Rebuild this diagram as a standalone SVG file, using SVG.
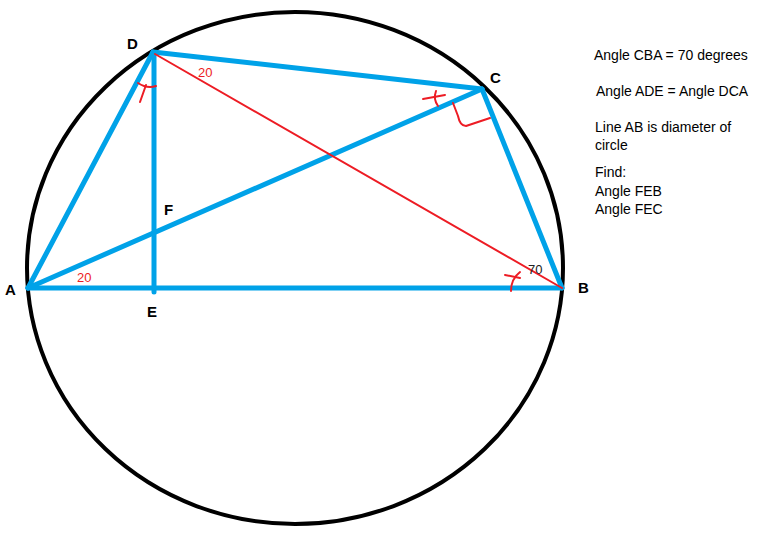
<svg xmlns="http://www.w3.org/2000/svg" width="776" height="544" viewBox="0 0 776 544">
<style>
.blue{stroke:#00a2e8;stroke-width:5;stroke-linecap:round;fill:none}
.red{stroke:#ed1c24;stroke-width:2;fill:none;stroke-linecap:round;stroke-linejoin:round}
.lbl{font-family:"Liberation Sans",Arial,sans-serif;font-weight:bold;font-size:15px;fill:#000}
.num{font-family:"Liberation Sans",Arial,sans-serif;font-size:13px;fill:#ed1c24}
.note{font-family:"Liberation Sans",Arial,sans-serif;font-size:14px;fill:#000}
</style>
<rect width="776" height="544" fill="#fff"/>
<g id="circle">
<ellipse cx="295" cy="268" rx="268" ry="256" fill="none" stroke="#000" stroke-width="4"/>
</g>
<g id="connectors">
<line class="blue" x1="28" y1="288" x2="562" y2="288"/>
<line class="blue" x1="28" y1="288" x2="153" y2="52"/>
<line class="blue" x1="153" y1="52" x2="482" y2="89"/>
<line class="blue" x1="482" y1="89" x2="562" y2="288"/>
<line class="blue" x1="28" y1="288" x2="482" y2="89"/>
<line class="blue" x1="154" y1="53" x2="154" y2="292"/>
<line class="red" x1="155" y1="54" x2="562" y2="288"/>
</g>
<g id="marks">
<path class="red" d="M138,83 Q147,89 156,86"/>
<path class="red" d="M146,85 L140,102"/>
<path class="red" d="M436,91 Q433,99 438,106"/>
<path class="red" d="M423,99 L445,95"/>
<path class="red" d="M453,103 L458,116 Q460,126 466,126 L490,118"/>
<path class="red" d="M520,272 Q511,279 511,291"/>
<path class="red" d="M505,275 L520,278"/>
</g>
<g id="node-D"><text class="lbl" x="127" y="49">D</text></g>
<g id="node-C"><text class="lbl" x="490" y="83">C</text></g>
<g id="node-B"><text class="lbl" x="578" y="293">B</text></g>
<g id="node-A"><text class="lbl" x="5" y="295">A</text></g>
<g id="node-E"><text class="lbl" x="147" y="317">E</text></g>
<g id="node-F"><text class="lbl" x="164" y="215">F</text></g>
<g id="angle-labels">
<text class="num" x="198" y="77">20</text>
<text class="num" x="77" y="282">20</text>
<text class="num" x="528" y="274" style="fill:#222">70</text>
</g>
<g id="notes">
<text class="note" x="594" y="60">Angle CBA = 70 degrees</text>
<text class="note" x="596" y="96">Angle ADE = Angle DCA</text>
<text class="note" x="595" y="132">Line AB is diameter of</text>
<text class="note" x="595" y="150">circle</text>
<text class="note" x="595" y="177">Find:</text>
<text class="note" x="595" y="196">Angle FEB</text>
<text class="note" x="595" y="214">Angle FEC</text>
</g>
</svg>
